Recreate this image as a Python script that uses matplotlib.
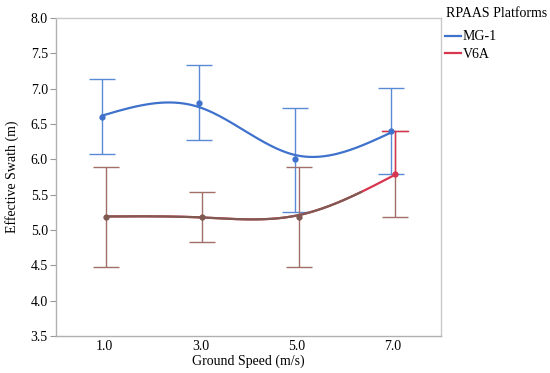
import numpy as np
import matplotlib
matplotlib.use("Agg")
import matplotlib.pyplot as plt

plt.rcParams['font.family'] = ['Liberation Serif', 'DejaVu Serif']

# data
speeds = [1.0, 3.0, 5.0, 7.0]
speed_labels = ["1.0", "3.0", "5.0", "7.0"]
mg1_mean = [6.60, 6.80, 6.00, 6.40]
mg1_low = [6.07, 6.27, 5.26, 5.79]
mg1_high = [7.14, 7.34, 6.73, 7.01]
v6a_mean = [5.19, 5.19, 5.19, 5.79]
v6a_low = [4.48, 4.83, 4.48, 5.18]
v6a_high = [5.89, 5.54, 5.89, 6.40]


def smooth_spline(x, y, lam, xs):
    # natural cubic smoothing spline (Reinsch form)
    x = np.asarray(x, float)
    y = np.asarray(y, float)
    n = len(x)
    h = np.diff(x)
    Q = np.zeros((n, n - 2))
    R = np.zeros((n - 2, n - 2))
    for j in range(1, n - 1):
        Q[j - 1, j - 1] = 1 / h[j - 1]
        Q[j, j - 1] = -1 / h[j - 1] - 1 / h[j]
        Q[j + 1, j - 1] = 1 / h[j]
        R[j - 1, j - 1] = (h[j - 1] + h[j]) / 3
        if j < n - 2:
            R[j - 1, j] = R[j, j - 1] = h[j] / 6
    K = Q @ np.linalg.solve(R, Q.T)
    f = np.linalg.solve(np.eye(n) + lam * K, y)
    g = np.concatenate([[0], np.linalg.solve(R, Q.T @ f), [0]])
    out = np.empty_like(xs)
    for k, t in enumerate(xs):
        i = min(np.searchsorted(x, t, side='right') - 1, n - 2)
        a, b, hi = t - x[i], x[i + 1] - t, h[i]
        out[k] = (a * f[i + 1] + b * f[i]) / hi - a * b / 6 * (
            (1 + a / hi) * g[i + 1] + (1 + b / hi) * g[i])
    return out


fig, ax = plt.subplots(figsize=(5.5, 3.73), dpi=100)
fig.subplots_adjust(left=0.102, right=0.802, top=0.952, bottom=0.099)

blue = '#3f72cc'
blue_bar = '#5a8ad6'
red = '#d8354f'
brown = '#7f5a52'
brown_bar = '#a26e68'

sp = np.array(speeds)
xs = np.linspace(1, 7, 300)

# MG-1
xb = sp - 0.04
ax.errorbar(xb, mg1_mean,
            yerr=[np.array(mg1_mean) - mg1_low, np.array(mg1_high) - mg1_mean],
            fmt='none', ecolor=blue_bar, elinewidth=1.0, capsize=9.5, capthick=1.0, zorder=2)
ax.plot(xb, mg1_mean, 'o', color=blue, ms=3.5, zorder=4)
ax.plot(xs - 0.04, smooth_spline(speeds, mg1_mean, 0.09, xs), color=blue, lw=1.6, zorder=3)

# V6A
xr = sp + 0.04
ax.errorbar(xr, v6a_mean,
            yerr=[np.array(v6a_mean) - v6a_low, np.array(v6a_high) - v6a_mean],
            fmt='none', ecolor=brown_bar, elinewidth=1.0, capsize=9.5, capthick=1.0, zorder=2)
v_line = smooth_spline(speeds, v6a_mean, 0.09, xs)
ax.plot(xs + 0.04, v_line, color=red, lw=1.6, zorder=3)
ax.plot(xs[xs < 6.3] + 0.04, v_line[xs < 6.3], color=brown, lw=1.6, zorder=3)
ax.plot(xr[:3], v6a_mean[:3], 'o', color=brown, ms=3.5, zorder=4)
ax.plot(xr[3:], v6a_mean[3:], 'o', color=red, ms=3.5, zorder=4)
ax.plot([xr[3], xr[3]], [v6a_mean[3], v6a_high[3]], color=red, lw=1.0, zorder=2)
ax.plot([xr[3] - 0.27, xr[3] + 0.27], [v6a_high[3]] * 2, color=red, lw=1.0, zorder=2)

ax.set_xlim(0, 8)
ax.set_ylim(3.5, 8.0)
ax.set_xticks(speeds)
ax.set_xticklabels(speed_labels)
ax.set_yticks(np.arange(3.5, 8.01, 0.5))
ax.set_yticklabels([f"{v:.1f}" for v in np.arange(3.5, 8.01, 0.5)])
ax.tick_params(axis='x', length=0, labelsize=10, pad=3)
ax.tick_params(axis='y', length=4, color='#999999', labelsize=10, pad=2)
for s in ax.spines.values():
    s.set_color('#c9c9c9')
    s.set_linewidth(1.0)
ax.spines['left'].set_color('#b0b0b0')
ax.spines['bottom'].set_color('#b0b0b0')

ax.set_xlabel("Ground Speed (m/s)", fontsize=10, labelpad=1)
ax.set_ylabel("Effective Swath (m)", fontsize=10, labelpad=8)

fig.text(0.811, 0.9625, "RPAAS Platforms", fontsize=10, va='center', ha='left')
h1, = ax.plot([], [], color=blue, lw=1.6)
h2, = ax.plot([], [], color=red, lw=1.6)
fig.legend([h1, h2], ["MG-1", "V6A"],
           loc='upper left', bbox_to_anchor=(0.806, 0.922), frameon=False,
           fontsize=10, handlelength=1.15, handletextpad=0.15,
           labelspacing=0.35, borderpad=0.1, borderaxespad=0)

fig.savefig("out.png", dpi=100)
